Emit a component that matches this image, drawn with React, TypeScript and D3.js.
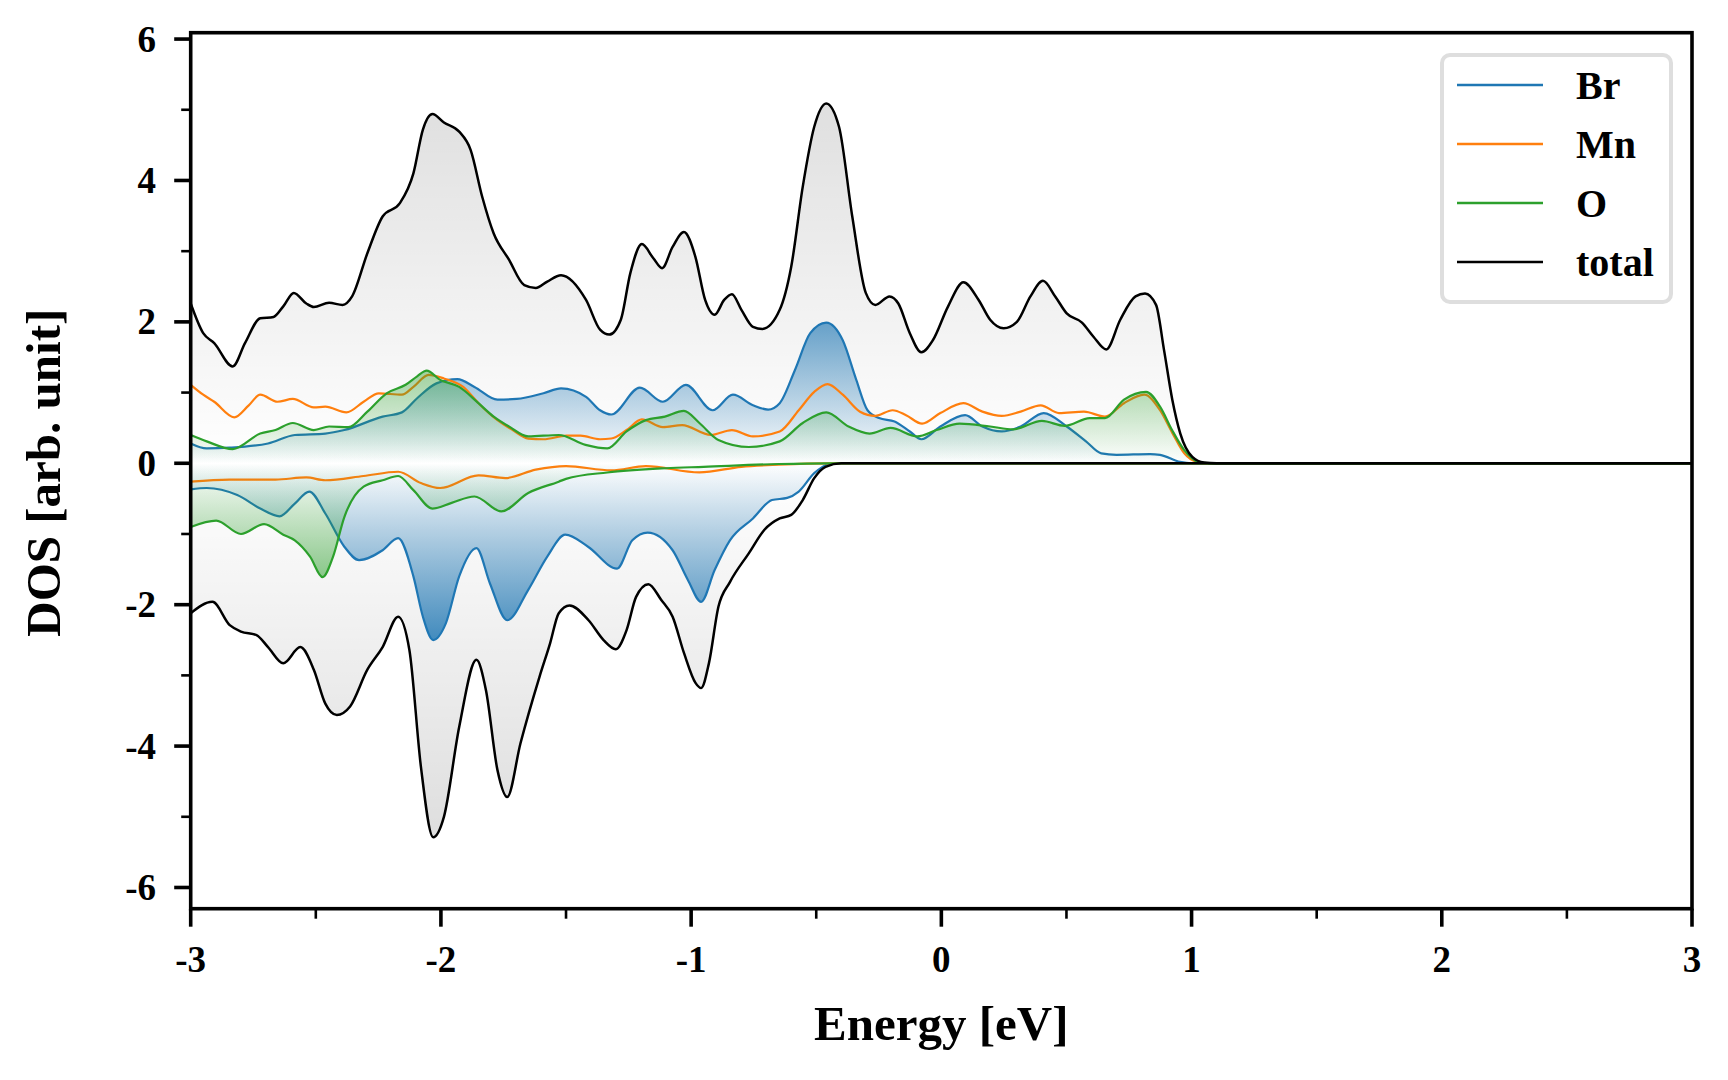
import React from "react";
import * as d3 from "d3";

type P = [number, number];

// ---- data: [energy (eV), DOS] ----
const totalUp: P[] = [
  [-3.0, 2.26], [-2.95, 1.84], [-2.906, 1.7], [-2.832, 1.37], [-2.783, 1.7], [-2.722, 2.05], [-2.669, 2.07],
  [-2.63, 2.22], [-2.588, 2.41], [-2.538, 2.26], [-2.508, 2.21], [-2.447, 2.27], [-2.393, 2.24], [-2.355, 2.36],
  [-2.294, 2.97], [-2.233, 3.49], [-2.164, 3.68], [-2.11, 4.1], [-2.072, 4.72], [-2.034, 4.94], [-1.988, 4.82],
  [-1.927, 4.69], [-1.881, 4.43], [-1.835, 3.77], [-1.789, 3.25], [-1.728, 2.88], [-1.667, 2.52], [-1.621, 2.48],
  [-1.575, 2.57], [-1.52, 2.66], [-1.42, 2.31], [-1.364, 1.89], [-1.327, 1.82], [-1.281, 2.03], [-1.243, 2.69],
  [-1.197, 3.1], [-1.151, 2.9], [-1.116, 2.76], [-1.074, 3.06], [-1.029, 3.27], [-0.983, 2.92], [-0.944, 2.31],
  [-0.906, 2.1], [-0.868, 2.31], [-0.837, 2.39], [-0.799, 2.17], [-0.753, 1.93], [-0.715, 1.9], [-0.646, 2.17],
  [-0.6, 2.78], [-0.554, 3.91], [-0.508, 4.76], [-0.46, 5.09], [-0.409, 4.76], [-0.356, 3.49], [-0.302, 2.41],
  [-0.264, 2.24], [-0.207, 2.36], [-0.172, 2.26], [-0.126, 1.84], [-0.08, 1.57], [-0.034, 1.74], [0.027, 2.22],
  [0.088, 2.56], [0.149, 2.31], [0.195, 2.03], [0.249, 1.91], [0.302, 2.0], [0.356, 2.36], [0.406, 2.58],
  [0.455, 2.36], [0.501, 2.12], [0.562, 1.99], [0.608, 1.79], [0.659, 1.61], [0.715, 2.03], [0.776, 2.36],
  [0.814, 2.4], [0.858, 2.24], [0.89, 1.6], [0.923, 0.9], [0.955, 0.42], [1.003, 0.09], [1.05, 0.01], [1.1, 0],
  [3.0, 0],
];

const totalDown: P[] = [
  [-3.0, -2.12], [-2.913, -1.96], [-2.844, -2.29], [-2.799, -2.38], [-2.737, -2.43], [-2.691, -2.6], [-2.63, -2.83],
  [-2.562, -2.6], [-2.508, -2.92], [-2.462, -3.4], [-2.416, -3.56], [-2.363, -3.44], [-2.294, -2.92], [-2.233, -2.6],
  [-2.171, -2.17], [-2.126, -2.64], [-2.08, -4.29], [-2.031, -5.29], [-1.988, -5.0], [-1.927, -3.73], [-1.858, -2.78],
  [-1.82, -3.21], [-1.774, -4.34], [-1.735, -4.72], [-1.682, -3.96], [-1.606, -3.02], [-1.564, -2.55], [-1.529, -2.12],
  [-1.486, -2.01], [-1.41, -2.22], [-1.35, -2.5], [-1.301, -2.63], [-1.258, -2.36], [-1.22, -1.89], [-1.171, -1.71],
  [-1.12, -1.93], [-1.074, -2.17], [-1.028, -2.69], [-0.982, -3.11], [-0.96, -3.18], [-0.929, -2.83], [-0.891, -2.03],
  [-0.845, -1.68], [-0.769, -1.27], [-0.707, -0.94], [-0.646, -0.78], [-0.6, -0.73], [-0.554, -0.52], [-0.508, -0.21],
  [-0.463, -0.05], [-0.4, 0], [3.0, 0],
];

const brUp: P[] = [
  [-3.0, 0.28], [-2.936, 0.21], [-2.845, 0.22], [-2.691, 0.28], [-2.584, 0.4], [-2.462, 0.42], [-2.386, 0.47],
  [-2.233, 0.66], [-2.156, 0.72], [-2.095, 0.92], [-2.018, 1.13], [-1.934, 1.19], [-1.866, 1.08], [-1.774, 0.9],
  [-1.697, 0.91], [-1.59, 0.99], [-1.52, 1.06], [-1.42, 0.94], [-1.364, 0.75], [-1.319, 0.69], [-1.205, 1.07],
  [-1.113, 0.87], [-1.021, 1.11], [-0.914, 0.75], [-0.833, 0.97], [-0.753, 0.82], [-0.692, 0.76], [-0.646, 0.85],
  [-0.585, 1.32], [-0.524, 1.84], [-0.46, 1.99], [-0.394, 1.74], [-0.34, 1.18], [-0.295, 0.75], [-0.249, 0.64],
  [-0.187, 0.59], [-0.126, 0.45], [-0.08, 0.34], [-0.004, 0.52], [0.095, 0.68], [0.164, 0.52], [0.241, 0.45],
  [0.317, 0.52], [0.409, 0.71], [0.501, 0.52], [0.578, 0.31], [0.639, 0.14], [0.7, 0.12], [0.834, 0.13],
  [0.874, 0.12], [0.954, 0.02], [1.0, 0], [3.0, 0],
];

const brDown: P[] = [
  [-3.0, -0.37], [-2.936, -0.35], [-2.814, -0.45], [-2.722, -0.64], [-2.645, -0.75], [-2.584, -0.57], [-2.526, -0.4],
  [-2.462, -0.71], [-2.386, -1.18], [-2.327, -1.37], [-2.233, -1.23], [-2.171, -1.06], [-2.11, -1.6], [-2.072, -2.17],
  [-2.031, -2.5], [-1.98, -2.26], [-1.927, -1.6], [-1.858, -1.2], [-1.804, -1.7], [-1.735, -2.22], [-1.651, -1.79],
  [-1.575, -1.32], [-1.503, -1.01], [-1.412, -1.18], [-1.296, -1.49], [-1.235, -1.09], [-1.174, -0.98], [-1.074, -1.23],
  [-1.013, -1.65], [-0.96, -1.96], [-0.906, -1.51], [-0.845, -1.09], [-0.753, -0.78], [-0.677, -0.52], [-0.616, -0.49],
  [-0.57, -0.4], [-0.508, -0.14], [-0.447, -0.01], [-0.4, 0], [3.0, 0],
];

const mnUp: P[] = [
  [-3.0, 1.11], [-2.95, 0.97], [-2.906, 0.87], [-2.826, 0.65], [-2.768, 0.82], [-2.722, 0.97], [-2.653, 0.87],
  [-2.592, 0.91], [-2.508, 0.79], [-2.462, 0.8], [-2.378, 0.72], [-2.309, 0.87], [-2.248, 0.99], [-2.156, 0.97],
  [-2.11, 1.08], [-2.049, 1.25], [-1.988, 1.2], [-1.911, 1.08], [-1.85, 0.85], [-1.774, 0.61], [-1.713, 0.47],
  [-1.651, 0.35], [-1.59, 0.34], [-1.498, 0.39], [-1.442, 0.39], [-1.364, 0.34], [-1.319, 0.35], [-1.258, 0.47],
  [-1.197, 0.62], [-1.113, 0.51], [-1.036, 0.54], [-0.922, 0.4], [-0.837, 0.47], [-0.753, 0.38], [-0.646, 0.45],
  [-0.57, 0.75], [-0.508, 1.01], [-0.455, 1.12], [-0.394, 0.97], [-0.325, 0.73], [-0.264, 0.67], [-0.195, 0.75],
  [-0.141, 0.68], [-0.077, 0.56], [-0.004, 0.71], [0.088, 0.85], [0.164, 0.73], [0.241, 0.67], [0.317, 0.73],
  [0.397, 0.82], [0.47, 0.71], [0.57, 0.73], [0.654, 0.66], [0.73, 0.85], [0.811, 0.97], [0.874, 0.75],
  [0.923, 0.43], [0.971, 0.14], [1.02, 0.02], [1.06, 0], [3.0, 0],
];

const mnDown: P[] = [
  [-3.0, -0.26], [-2.845, -0.23], [-2.661, -0.23], [-2.538, -0.2], [-2.462, -0.24], [-2.309, -0.18], [-2.171, -0.12],
  [-2.08, -0.28], [-2.003, -0.35], [-1.85, -0.17], [-1.743, -0.21], [-1.621, -0.09], [-1.5, -0.04], [-1.319, -0.1],
  [-1.181, -0.04], [-0.967, -0.13], [-0.799, -0.05], [-0.65, -0.02], [-0.45, 0], [3.0, 0],
];

const oUp: P[] = [
  [-3.0, 0.4], [-2.936, 0.31], [-2.832, 0.2], [-2.722, 0.42], [-2.661, 0.47], [-2.592, 0.57], [-2.508, 0.47],
  [-2.447, 0.52], [-2.37, 0.51], [-2.294, 0.73], [-2.217, 0.99], [-2.141, 1.11], [-2.095, 1.23], [-2.057, 1.31],
  [-2.003, 1.18], [-1.927, 1.08], [-1.85, 0.85], [-1.789, 0.66], [-1.728, 0.52], [-1.651, 0.38], [-1.529, 0.4],
  [-1.422, 0.26], [-1.335, 0.21], [-1.258, 0.45], [-1.181, 0.61], [-1.105, 0.66], [-1.029, 0.74], [-0.967, 0.57],
  [-0.891, 0.33], [-0.769, 0.23], [-0.646, 0.31], [-0.554, 0.57], [-0.46, 0.72], [-0.371, 0.52], [-0.287, 0.42],
  [-0.203, 0.5], [-0.096, 0.38], [-0.019, 0.47], [0.073, 0.56], [0.195, 0.52], [0.287, 0.48], [0.402, 0.6],
  [0.493, 0.53], [0.593, 0.64], [0.654, 0.64], [0.73, 0.9], [0.818, 1.01], [0.874, 0.8], [0.922, 0.47],
  [0.97, 0.19], [1.026, 0.02], [1.07, 0], [3.0, 0],
];

const oDown: P[] = [
  [-3.0, -0.9], [-2.898, -0.81], [-2.799, -1.0], [-2.707, -0.86], [-2.63, -1.01], [-2.584, -1.09], [-2.523, -1.32],
  [-2.473, -1.61], [-2.431, -1.32], [-2.386, -0.76], [-2.309, -0.33], [-2.233, -0.24], [-2.171, -0.18], [-2.11, -0.38],
  [-2.034, -0.64], [-1.957, -0.56], [-1.866, -0.47], [-1.759, -0.68], [-1.651, -0.42], [-1.529, -0.26], [-1.5, -0.22],
  [-1.335, -0.13], [-1.1, -0.07], [-0.95, -0.05], [-0.65, -0.01], [-0.45, 0], [3.0, 0],
];

const legendLabels = ["Br", "Mn", "O", "total"];
const legendColors = ["#1f77b4", "#ff7f0e", "#2ca02c", "#000000"];

const xMajor = [-3, -2, -1, 0, 1, 2, 3];
const xMinor = [-2.5, -1.5, -0.5, 0.5, 1.5, 2.5];
const yMajor = [-6, -4, -2, 0, 2, 4, 6];
const yMinor = [-5, -3, -1, 1, 3, 5];

const FONT = "'Liberation Serif', 'Times New Roman', Times, serif";

export default function App() {
  const W = 1728;
  const H = 1080;
  const left = 190.7, right = 1692, top = 32.7, bottom = 908.7;
  const x = d3.scaleLinear().domain([-3, 3]).range([left, right]);
  const y = d3.scaleLinear().domain([-6.3, 6.09]).range([bottom, top]);

  const line = d3.line<P>().x((d) => x(d[0])).y((d) => y(d[1])).curve(d3.curveMonotoneX);
  const area = d3
    .area<P>()
    .x((d) => x(d[0]))
    .y0(y(0))
    .y1((d) => y(d[1]))
    .curve(d3.curveMonotoneX);

  const grad = (id: string, color: string, yEnd: number, maxOp: number) => (
    <linearGradient id={id} gradientUnits="userSpaceOnUse" x1={0} x2={0} y1={y(0)} y2={y(yEnd)}>
      <stop offset="0" stopColor={color} stopOpacity={0} />
      <stop offset="1" stopColor={color} stopOpacity={maxOp} />
    </linearGradient>
  );

  const lw = 2.2;

  return (
    <div style={{ position: "absolute", left: 0, top: 0, width: W, height: H, background: "#fff" }}>
      <svg width={W} height={H} viewBox={`0 0 ${W} ${H}`} style={{ display: "block" }}>
        <defs>
          {grad("gTotUp", "#000", 6.3, 0.155)}
          {grad("gTotDn", "#000", -6.3, 0.155)}
          {grad("gBrUp", legendColors[0], 3, 1)}
          {grad("gBrDn", legendColors[0], -3, 1)}
          {grad("gOUp", legendColors[2], 3, 1)}
          {grad("gODn", legendColors[2], -3, 1)}
          <clipPath id="plotClip">
            <rect x={left} y={top} width={right - left} height={bottom - top} />
          </clipPath>
        </defs>
        <rect x={0} y={0} width={W} height={H} fill="#fff" />

        <g clipPath="url(#plotClip)">
          <path d={area(totalUp) || ""} fill="url(#gTotUp)" />
          <path d={area(totalDown) || ""} fill="url(#gTotDn)" />

          <path d={line(brUp) || ""} fill="none" stroke={legendColors[0]} strokeWidth={lw} />
          <path d={line(brDown) || ""} fill="none" stroke={legendColors[0]} strokeWidth={lw} />
          <path d={area(brUp) || ""} fill="url(#gBrUp)" />
          <path d={area(brDown) || ""} fill="url(#gBrDn)" />

          <path d={line(mnUp) || ""} fill="none" stroke={legendColors[1]} strokeWidth={lw} />
          <path d={line(mnDown) || ""} fill="none" stroke={legendColors[1]} strokeWidth={lw} />

          <path d={line(oUp) || ""} fill="none" stroke={legendColors[2]} strokeWidth={lw} />
          <path d={line(oDown) || ""} fill="none" stroke={legendColors[2]} strokeWidth={lw} />
          <path d={area(oUp) || ""} fill="url(#gOUp)" />
          <path d={area(oDown) || ""} fill="url(#gODn)" />

          <path d={line(totalUp) || ""} fill="none" stroke="#000" strokeWidth={lw + 0.3} />
          <path d={line(totalDown) || ""} fill="none" stroke="#000" strokeWidth={lw + 0.3} />
        </g>

        {/* spines */}
        <rect x={left} y={top} width={right - left} height={bottom - top} fill="none" stroke="#000" strokeWidth={3.6} />

        {/* y ticks */}
        {yMajor.map((v) => (
          <g key={"ym" + v}>
            <line x1={left - 16.5} x2={left} y1={y(v)} y2={y(v)} stroke="#000" strokeWidth={3.6} />
            <text
              x={156}
              y={y(v)}
              dy="0.34em"
              textAnchor="end"
              fontFamily={FONT}
              fontWeight="bold"
              fontSize={37}
              fill="#000"
            >
              {String(v)}
            </text>
          </g>
        ))}
        {yMinor.map((v) => (
          <line key={"yn" + v} x1={left - 9.5} x2={left} y1={y(v)} y2={y(v)} stroke="#000" strokeWidth={2.6} />
        ))}

        {/* x ticks */}
        {xMajor.map((v) => (
          <g key={"xm" + v}>
            <line x1={x(v)} x2={x(v)} y1={bottom} y2={bottom + 18} stroke="#000" strokeWidth={3.6} />
            <text
              x={x(v)}
              y={971.5}
              textAnchor="middle"
              fontFamily={FONT}
              fontWeight="bold"
              fontSize={37}
              fill="#000"
            >
              {String(v)}
            </text>
          </g>
        ))}
        {xMinor.map((v) => (
          <line key={"xn" + v} x1={x(v)} x2={x(v)} y1={bottom} y2={bottom + 10} stroke="#000" strokeWidth={2.6} />
        ))}

        {/* axis labels */}
        <text
          x={(left + right) / 2}
          y={1040}
          textAnchor="middle"
          fontFamily={FONT}
          fontWeight="bold"
          fontSize={49}
          fill="#000"
        >
          Energy [eV]
        </text>
        <text
          transform={`translate(60, ${(top + bottom) / 2 + 2}) rotate(-90)`}
          textAnchor="middle"
          fontFamily={FONT}
          fontWeight="bold"
          fontSize={49}
          fill="#000"
        >
          DOS [arb. unit]
        </text>

        {/* legend */}
        <rect x={1442} y={55} width={229} height={247} rx={8} ry={8} fill="#fff" fillOpacity={0.85} stroke="#dedede" strokeWidth={4} />
        {legendLabels.map((lab, i) => {
          const ly = 85 + i * 59;
          return (
            <g key={lab}>
              <line x1={1457} x2={1543} y1={ly} y2={ly} stroke={legendColors[i]} strokeWidth={2.4} />
              <text x={1576} y={ly + 14} fontFamily={FONT} fontWeight="bold" fontSize={40} fill="#000">
                {lab}
              </text>
            </g>
          );
        })}
      </svg>
    </div>
  );
}
